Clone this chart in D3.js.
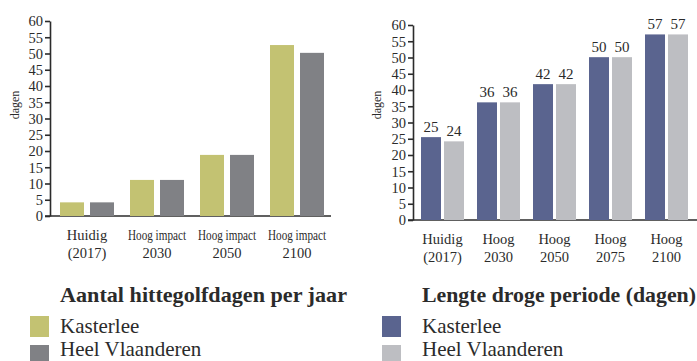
<!DOCTYPE html>
<html>
<head>
<meta charset="utf-8">
<script src="https://cdn.jsdelivr.net/npm/d3@7"></script>
<style>
  body { margin: 0; background: #fff; }
  svg { display: block; font-family: "Liberation Serif", "DejaVu Serif", serif; }
  .tick line, .domain { stroke: #2b2b2b; stroke-width: 1.6; }
</style>
</head>
<body>
<svg id="chart" width="697" height="361"></svg>
<script>
const heatCats = ['Huidig|(2017)', 'Hoog impact|2030', 'Hoog impact|2050', 'Hoog impact|2100'];
const heatKasterlee = [4.2, 11.1, 18.8, 52.6];
const heatVlaanderen = [4.2, 11.1, 18.8, 50.2];

const dryCats = ['Huidig|(2017)', 'Hoog|2030', 'Hoog|2050', 'Hoog|2075', 'Hoog|2100'];
const dryKasterlee = [25.5, 36.2, 41.8, 50.1, 57.1];
const dryVlaanderen = [24.2, 36.2, 41.8, 50.1, 57.1];
const dryKasterleeLabels = ['25', '36', '42', '50', '57'];
const dryVlaanderenLabels = ['24', '36', '42', '50', '57'];

const yTicks = d3.range(0, 61, 5);
const seriesNames = ['Kasterlee', 'Heel Vlaanderen'];

const colors = {
  green: '#c3c272',
  grey: '#808185',
  navy: '#5a648f',
  light: '#bdbec2',
  text: '#2b2b2b'
};
const serif = '"Liberation Serif", "DejaVu Serif", serif';

const svg = d3.select('#chart');

const drawPanel = (opt) => {
  const g = svg.append('g');
  const y = d3.scaleLinear().domain([0, 60]).range([opt.y0, opt.y1]);
  const x = d3.scalePoint().domain(opt.cats).range(opt.xRange).padding(0.5);
  const inner = d3.scaleBand().domain(seriesNames)
    .range([-opt.half, opt.half]).paddingInner(opt.pad);

  // baseline
  g.append('line')
    .attr('x1', opt.baseX[0]).attr('x2', opt.baseX[1])
    .attr('y1', y(0)).attr('y2', y(0))
    .attr('stroke', colors.text).attr('stroke-width', 1.6);

  const axis = g.append('g')
    .attr('transform', `translate(${opt.axisX},0)`)
    .call(d3.axisLeft(y).tickValues(yTicks).tickSize(5).tickSizeOuter(0).tickPadding(2));
  axis.attr('font-family', serif).attr('font-size', 14.5);
  axis.selectAll('.tick text')
    .style('font-family', serif)
    .style('font-size', '14.5px')
    .attr('fill', colors.text)
    .attr('dy', '0.34em');

  g.append('text')
    .attr('transform', `translate(${opt.labelX},105) rotate(-90)`)
    .attr('text-anchor', 'middle')
    .attr('font-size', 12)
    .attr('fill', colors.text)
    .text('dagen');

  const series = [opt.a, opt.b];
  series.forEach((vals, s) => {
    g.selectAll(null).data(vals).enter().append('rect')
      .attr('x', (d, i) => x(opt.cats[i]) + inner(seriesNames[s]))
      .attr('y', d => y(d))
      .attr('width', inner.bandwidth())
      .attr('height', d => y(0) - y(d))
      .attr('fill', opt.colors[s]);
    if (opt.labels) {
      g.selectAll(null).data(opt.labels[s]).enter().append('text')
        .attr('x', (d, i) => x(opt.cats[i]) + inner(seriesNames[s]) + inner.bandwidth() / 2)
        .attr('y', (d, i) => y(vals[i]) - 5)
        .attr('text-anchor', 'middle')
        .attr('font-size', 15)
        .attr('fill', colors.text)
        .text(d => d);
    }
  });

  opt.cats.forEach(c => {
    const parts = c.split('|');
    parts.forEach((p, k) => {
      const t = g.append('text')
        .attr('x', x(c))
        .attr('y', opt.catY + k * 18)
        .attr('text-anchor', 'middle')
        .attr('font-size', 14.5)
        .attr('fill', colors.text)
        .text(p);
      if (p === 'Hoog impact') {
        t.attr('textLength', 58).attr('lengthAdjust', 'spacingAndGlyphs');
      }
    });
  });

  // legend
  g.append('text')
    .attr('x', opt.legX).attr('y', 302)
    .attr('font-size', 21)
    .attr('font-weight', 'bold')
    .attr('fill', colors.text)
    .attr('textLength', opt.titleW)
    .attr('lengthAdjust', 'spacingAndGlyphs')
    .text(opt.title);
  seriesNames.forEach((n, s) => {
    g.append('rect')
      .attr('x', opt.sqX).attr('y', 316 + s * 29)
      .attr('width', 19).attr('height', 21)
      .attr('fill', opt.colors[s]);
    g.append('text')
      .attr('x', opt.legX).attr('y', 333 + s * 23)
      .attr('font-size', 21)
      .attr('fill', colors.text)
      .text(n);
  });
};

drawPanel({
  cats: heatCats, a: heatKasterlee, b: heatVlaanderen,
  y0: 216, y1: 21, xRange: [52, 332], half: 27, pad: 0.2,
  baseX: [45, 331], axisX: 50, labelX: 19, catY: 240,
  colors: [colors.green, colors.grey],
  legX: 60, sqX: 30, titleW: 287, title: 'Aantal hittegolfdagen per jaar'
});

drawPanel({
  cats: dryCats, a: dryKasterlee, b: dryVlaanderen,
  labels: [dryKasterleeLabels, dryVlaanderenLabels],
  y0: 220, y1: 25, xRange: [414.5, 694.5], half: 21.5, pad: 3 / 23,
  baseX: [408, 697], axisX: 413, labelX: 381, catY: 244,
  colors: [colors.navy, colors.light],
  legX: 422, sqX: 382, titleW: 274, title: 'Lengte droge periode (dagen)'
});
</script>
</body>
</html>
